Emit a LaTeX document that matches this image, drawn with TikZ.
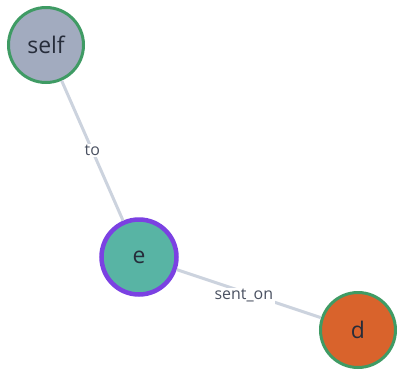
\documentclass[tikz,border=0pt]{standalone}
\usepackage{fontspec}
\setsansfont{Open Sans}
\usepackage{tikz}
\usetikzlibrary{positioning}
\definecolor{edgegray}{HTML}{CCD3DE}
\definecolor{labelgray}{HTML}{4A5161}
\definecolor{selffill}{HTML}{A2ABBF}
\definecolor{efill}{HTML}{58B4A4}
\definecolor{dfill}{HTML}{D9632C}
\definecolor{ringgreen}{HTML}{3F9B64}
\definecolor{ringpurple}{HTML}{7B41E2}
\definecolor{inktext}{HTML}{262C3A}

\begin{document}
\begin{tikzpicture}[x=1bp,y=-1bp,
     vertex/.style={circle,minimum size=75bp,inner sep=0pt,line width=3bp,
       font=\sffamily\fontsize{23}{23}\selectfont,text=inktext},
     link/.style={draw=edgegray,line width=3bp},
     linklabel/.style={fill=white,inner sep=1.5bp,text=labelgray,
       font=\sffamily\fontsize{16}{16}\selectfont}]
     \useasboundingbox (0,0) rectangle (397,370);
     \node[vertex,fill=selffill,draw=ringgreen] (self) at (46,45) {self};
     \node[vertex,fill=efill,draw=ringpurple,line width=4.5bp] (e) at (139,257) {e};
     \node[vertex,fill=dfill,draw=ringgreen] (d) at (358,330) {d};
     % connectors, labels on white patches
     \path[link] (self) -- node[linklabel] {to} (e);
     \path[link] (e) -- node[linklabel,yshift=-2bp,xshift=-5bp] {sent\_on} (d);
\end{tikzpicture}
\end{document}
